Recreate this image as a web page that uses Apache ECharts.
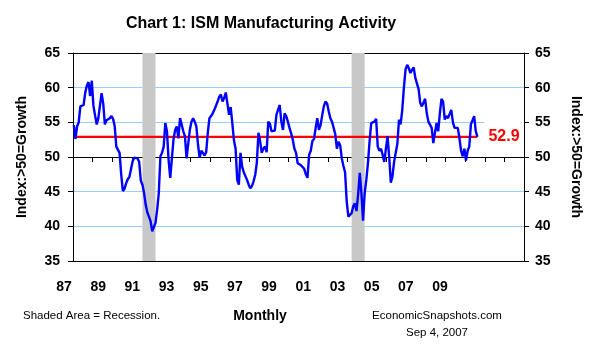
<!DOCTYPE html>
<html>
<head>
<meta charset="utf-8">
<script src="https://cdn.jsdelivr.net/npm/echarts@6/dist/echarts.min.js"></script>
<style>html,body{margin:0;padding:0;background:#fff}#c{width:600px;height:350px}</style>
</head>
<body>
<div id="c"></div>
<script>
// ---- Data (ISM manufacturing index, monthly, Jan 1987 - Aug 2007) ----
const startYear = 1987;
const pmi1987 = [54.6, 52.6, 54.4, 55.0, 57.3, 57.4, 57.5, 59.3, 60.3, 60.8, 58.8, 61.0];
const pmi1988 = [57.4, 56.0, 54.7, 55.6, 55.6, 59.2, 57.7, 54.7, 55.3, 55.4, 55.6, 55.9];
const pmi1989 = [55.5, 54.5, 51.5, 51.7, 50.6, 47.5, 45.1, 45.4, 46.2, 46.8, 47.1, 47.1];
const pmi1990 = [49.4, 49.9, 50.0, 49.8, 49.3, 46.6, 46.0, 44.8, 43.1, 42.0, 41.4, 40.7];
const pmi1991 = [39.3, 39.5, 40.5, 42.4, 44.8, 50.1, 50.6, 51.5, 54.9, 53.7, 49.6, 47.0];
const pmi1992 = [47.2, 52.5, 53.9, 54.4, 52.7, 55.6, 54.7, 53.7, 53.0, 49.8, 50.0, 53.9];
const pmi1993 = [55.1, 55.6, 55.1, 54.4, 51.8, 49.9, 50.9, 50.6, 50.2, 50.7, 53.5, 55.6];
const pmi1994 = [55.9, 56.3, 56.8, 57.4, 58.0, 58.7, 59.0, 58.0, 58.5, 59.3, 59.2, 56.1];
const pmi1995 = [57.2, 54.9, 52.4, 51.2, 46.7, 46.0, 50.6, 48.6, 47.8, 48.0, 46.7, 46.0];
const pmi1996 = [45.5, 45.8, 46.5, 47.4, 49.2, 53.5, 52.3, 50.6, 51.2, 51.5, 50.7, 55.1];
const pmi1997 = [54.8, 53.7, 53.7, 53.8, 56.1, 55.9, 57.5, 55.1, 53.9, 56.3, 55.9, 55.1];
const pmi1998 = [54.2, 53.4, 52.5, 51.2, 50.6, 49.1, 49.0, 48.8, 48.6, 48.3, 47.5, 47.0];
const pmi1999 = [50.3, 50.9, 52.3, 52.6, 54.2, 55.6, 53.9, 54.6, 56.0, 57.3, 58.0, 57.7];
const pmi2000 = [56.6, 55.6, 55.1, 54.9, 53.3, 51.2, 52.2, 51.7, 49.8, 48.7, 47.8, 43.6];
const pmi2001 = [41.4, 41.2, 41.9, 42.9, 43.3, 42.2, 44.6, 47.7, 44.8, 40.8, 44.8, 46.7];
const pmi2002 = [49.1, 52.3, 54.9, 55.0, 55.1, 55.5, 51.5, 50.9, 51.2, 50.3, 49.3, 51.2];
const pmi2003 = [53.0, 50.0, 46.3, 47.2, 49.3, 49.5, 51.9, 55.4, 54.7, 56.8, 60.0, 62.6];
const pmi2004 = [63.3, 62.8, 62.1, 62.6, 62.9, 61.4, 61.2, 59.8, 57.8, 57.3, 57.2, 58.4];
const pmi2005 = [56.3, 55.1, 55.0, 54.2, 52.0, 53.5, 54.9, 53.7, 56.3, 58.4, 58.0, 55.4];
const pmi2006 = [55.9, 55.6, 55.4, 56.8, 55.0, 54.2, 54.2, 54.2, 52.7, 50.9, 50.1, 51.2];
const pmi2007 = [49.5, 50.9, 51.5, 54.7, 54.9, 55.9, 53.7, 52.9];

const recessionPeaks = ['1990-07', '2001-03'];
const recessionTroughs = ['1991-03', '2001-11'];
const xLabelYears = [1987, 1989, 1991, 1993, 1995, 1997, 1999, 2001, 2003, 2005, 2007, 2009];
const yTickValues = [35, 40, 45, 50, 55, 60, 65];
const growthLevel = 50;

// ---- Build ----
const pmi = [].concat(pmi1987, pmi1988, pmi1989, pmi1990, pmi1991, pmi1992, pmi1993,
  pmi1994, pmi1995, pmi1996, pmi1997, pmi1998, pmi1999, pmi2000, pmi2001, pmi2002,
  pmi2003, pmi2004, pmi2005, pmi2006, pmi2007);
function monthToYear(i) { return startYear + (i + 0.5) / 12; }
function ymToYear(s) { const p = s.split('-').map(Number); return monthToYear((p[0] - startYear) * 12 + p[1] - 1); }
const lineData = pmi.map((v, i) => [monthToYear(i), v]);
const latest = pmi[pmi.length - 1];
const latestLine = [[monthToYear(0), latest], [monthToYear(pmi.length - 1), latest]];
const yMin = yTickValues[0], yMax = yTickValues[yTickValues.length - 1];
const yStep = yTickValues[1] - yTickValues[0];
const gridColors = yTickValues.map(v => (v === yMin || v === yMax || v === growthLevel) ? '#000000' : '#99CCFF');

const FONT = '"Liberation Sans", Arial, Helvetica, sans-serif';
const chart = echarts.init(document.getElementById('c'), null, { renderer: 'canvas' });
const nameStyle = { color: '#000', fontSize: 14, fontWeight: 'bold', fontFamily: FONT };
const tickLabel = { color: '#000', fontSize: 14, fontWeight: 'bold', fontFamily: FONT };

chart.setOption({
  animation: false,
  backgroundColor: '#fff',
  grid: [
    { left: 73, right: 76, top: 53, bottom: 89, containLabel: false },
    { left: 64, right: 160, top: 53, bottom: 89, containLabel: false }
  ],
  xAxis: [
    { gridIndex: 0, type: 'value', min: startYear, max: 2010, interval: 1,
      axisLine: { show: true, onZero: true, onZeroAxisIndex: 2, lineStyle: { color: '#000', width: 1 } },
      axisTick: { show: true, length: 5, lineStyle: { color: '#000', width: 1 } },
      axisLabel: { show: false }, splitLine: { show: false } },
    { gridIndex: 1, type: 'value', min: xLabelYears[0], max: xLabelYears[xLabelYears.length - 1], interval: 2,
      axisLine: { show: false, onZero: false }, axisTick: { show: false }, splitLine: { show: false },
      axisLabel: Object.assign({ show: true, margin: 19, showMinLabel: true, showMaxLabel: true,
        formatter: v => String(v).slice(2) }, tickLabel) }
  ],
  yAxis: [
    { gridIndex: 0, type: 'value', position: 'left', min: yMin, max: yMax, interval: yStep,
      name: 'Index:>50=Growth', nameLocation: 'middle', nameRotate: 90, nameGap: 44, nameTextStyle: nameStyle,
      axisLine: { show: true, onZero: false, lineStyle: { color: '#000', width: 1 } },
      axisTick: { show: true, length: 5, lineStyle: { color: '#000' } },
      axisLabel: Object.assign({ margin: 13 }, tickLabel),
      splitLine: { show: true, lineStyle: { color: gridColors, width: 1 } } },
    { gridIndex: 0, type: 'value', position: 'right', min: yMin, max: yMax, interval: yStep,
      name: 'Index:>50=Growth', nameLocation: 'middle', nameRotate: -90, nameGap: 45, nameTextStyle: nameStyle,
      axisLine: { show: true, onZero: false, lineStyle: { color: '#000', width: 1 } },
      axisTick: { show: true, length: 5, lineStyle: { color: '#000' } },
      axisLabel: Object.assign({ margin: 11 }, tickLabel),
      splitLine: { show: false } },
    { gridIndex: 0, type: 'value', show: false, position: 'left', min: yMin - growthLevel, max: yMax - growthLevel },
    { gridIndex: 1, type: 'value', show: false, min: 0, max: 1 }
  ],
  series: [
    { type: 'line', name: 'Latest', xAxisIndex: 0, yAxisIndex: 0, data: latestLine, symbol: 'none', silent: true,
      lineStyle: { color: '#FF0000', width: 2.2 },
      endLabel: { show: true, formatter: p => p.value[1].toFixed(1), color: '#FF0000', fontSize: 16,
        fontWeight: 'bold', fontFamily: FONT, distance: 7, backgroundColor: '#fff', padding: [8, 4, 6, 4] } },
    { type: 'line', name: 'ISM', xAxisIndex: 0, yAxisIndex: 0, data: lineData, symbol: 'none', silent: true,
      lineStyle: { color: '#0000FF', width: 2.4 },
      markArea: { silent: true, itemStyle: { color: '#C8C8C8' },
        data: recessionPeaks.map((p, i) => [{ xAxis: ymToYear(p) }, { xAxis: ymToYear(recessionTroughs[i]) }]) } }
  ],
  graphic: [
    { type: 'text', x: 261, y: 24, style: { text: 'Chart 1: ISM Manufacturing Activity', fill: '#000',
      font: 'bold 16px ' + FONT, align: 'center', verticalAlign: 'middle', textAlign: 'center', textVerticalAlign: 'middle' } },
    { type: 'text', x: 23, y: 316, style: { text: 'Shaded Area = Recession.', fill: '#000',
      font: '11.5px ' + FONT, align: 'left', verticalAlign: 'middle', textAlign: 'left', textVerticalAlign: 'middle' } },
    { type: 'text', x: 260, y: 316, style: { text: 'Monthly', fill: '#000',
      font: 'bold 14px ' + FONT, align: 'center', verticalAlign: 'middle', textAlign: 'center', textVerticalAlign: 'middle' } },
    { type: 'text', x: 437, y: 316, style: { text: 'EconomicSnapshots.com', fill: '#000',
      font: '11.5px ' + FONT, align: 'center', verticalAlign: 'middle', textAlign: 'center', textVerticalAlign: 'middle' } },
    { type: 'text', x: 437, y: 333, style: { text: 'Sep 4, 2007', fill: '#000',
      font: '11.5px ' + FONT, align: 'center', verticalAlign: 'middle', textAlign: 'center', textVerticalAlign: 'middle' } }
  ]
});
</script>
</body>
</html>
